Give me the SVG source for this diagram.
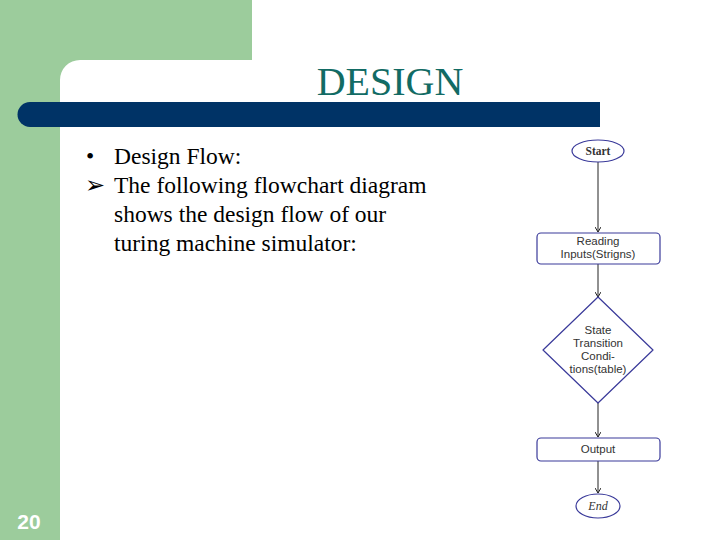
<svg xmlns="http://www.w3.org/2000/svg" width="720" height="540" viewBox="0 0 720 540">
<style>
.body{font-family:"Liberation Serif",serif;font-size:23.5px;fill:#000}
.node{fill:#fff;stroke:#3a3a9a;stroke-width:1.2}
.lbl{font-family:"Liberation Sans",sans-serif;font-size:11.5px;fill:#333;text-anchor:middle}
.conn{stroke:#222;stroke-width:1;fill:none;marker-end:url(#ah)}
</style>
<defs>
<marker id="ah" markerWidth="6" markerHeight="6" refX="5" refY="3" orient="auto" markerUnits="userSpaceOnUse">
<path d="M0,0 L5,3 L0,6" fill="none" stroke="#222" stroke-width="1"/>
</marker>
</defs>
<rect width="720" height="540" fill="#fff"/>
<g id="background">
<rect x="0" y="0" width="252" height="60" fill="#9ccc9c"/>
<rect x="0" y="0" width="60" height="540" fill="#9ccc9c"/>
<path d="M60,60 L80,60 A20,20 0 0 0 60,80 Z" fill="#9ccc9c"/>
<path d="M30,102 L600,102 L600,127 L30,127 A12.5,12.5 0 0 1 30,102 Z" fill="#003366"/>
</g>
<text x="390" y="95" font-family="Liberation Serif,serif" font-size="40" fill="#126b64" text-anchor="middle">DESIGN</text>
<g id="bullets">
<text x="86" y="164" class="body" font-size="21">•</text>
<text x="114" y="164" class="body">Design Flow:</text>
<text x="85" y="193" class="body" font-size="20">➢</text>
<text x="114" y="193" class="body">The following flowchart diagram</text>
<text x="114" y="222" class="body">shows the design flow of our</text>
<text x="114" y="251" class="body">turing machine simulator:</text>
</g>
<text x="29" y="529" font-family="Liberation Sans,sans-serif" font-weight="bold" font-size="21" fill="#fff" text-anchor="middle">20</text>
<g id="connectors">
<line x1="598" y1="162" x2="598" y2="232" class="conn"/>
<line x1="598" y1="264" x2="598" y2="297" class="conn"/>
<line x1="598" y1="403" x2="598" y2="437" class="conn"/>
<line x1="598" y1="461" x2="598" y2="493" class="conn"/>
</g>
<g id="start">
<ellipse cx="598" cy="151" rx="26" ry="11" class="node"/>
<text x="598" y="155" font-family="Liberation Serif,serif" font-weight="bold" font-size="11.5" fill="#333" text-anchor="middle">Start</text>
</g>
<g id="reading">
<rect x="537" y="233" width="123" height="31" rx="4" class="node"/>
<text x="598" y="245" class="lbl">Reading</text>
<text x="598" y="258" class="lbl">Inputs(Strigns)</text>
</g>
<g id="state">
<path d="M598,297 L653,350 L598,403 L543,350 Z" class="node" stroke-linejoin="round"/>
<text x="598" y="334" class="lbl">State</text>
<text x="598" y="347" class="lbl">Transition</text>
<text x="598" y="360" class="lbl">Condi-</text>
<text x="598" y="373" class="lbl">tions(table)</text>
</g>
<g id="output">
<rect x="537" y="438" width="123" height="23" rx="4" class="node"/>
<text x="598" y="453" class="lbl">Output</text>
</g>
<g id="end">
<ellipse cx="598" cy="506" rx="22" ry="12" class="node"/>
<text x="598" y="510" font-family="Liberation Serif,serif" font-style="italic" font-size="12" fill="#333" text-anchor="middle">End</text>
</g>
</svg>
